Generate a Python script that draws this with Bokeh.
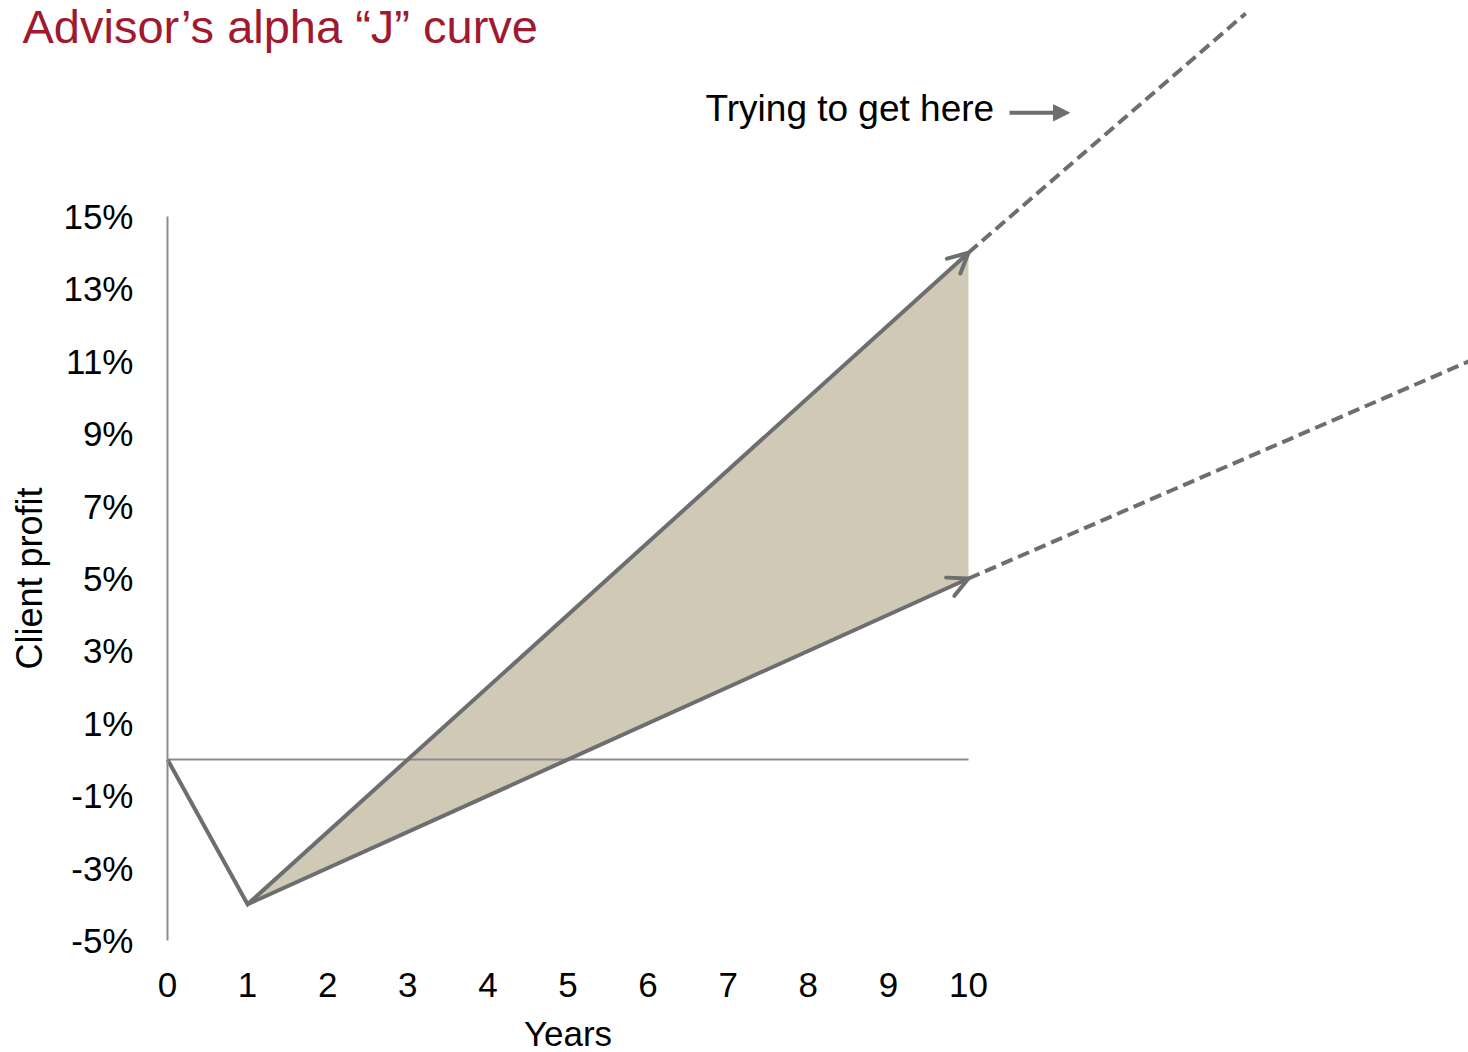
import math
from bokeh.plotting import figure
from bokeh.models import Range1d, FixedTicker, PrintfTickFormatter, Label, Arrow, OpenHead, NormalHead
from bokeh.embed import file_html
from bokeh.resources import INLINE

# ---- data ----
years = [0, 1, 10]
advisor = [0, -4, 14]        # upper path (with advisor alpha)
market = [0, -4, 5]          # lower path
proj_years_up = [10, 13.46]
proj_up = [14, 20.61]
proj_years_low = [10, 16.3]
proj_low = [5, 11.05]
y_ticks = [-5, -3, -1, 1, 3, 5, 7, 9, 11, 13, 15]
x_ticks = [0, 1, 2, 3, 4, 5, 6, 7, 8, 9, 10]

title_text = "Advisor\u2019s alpha \u201cJ\u201d curve"
note_text = "Trying to get here"
x_label = "Years"
y_label = "Client profit"

GREY = "#6D6E70"
AXIS_GREY = "#8C8C8C"
FILL = "#CFC9B6"
RED = "#A0192F"
FONT = "Liberation Sans"

p = figure(width=1468, height=1052,
           x_range=Range1d(-2.0849, 16.2422), y_range=Range1d(-8.0939, 20.9669),
           output_backend="svg", toolbar_location=None,
           min_border_left=0, min_border_right=0, min_border_top=0, min_border_bottom=0)
p.outline_line_color = None
p.background_fill_color = "white"
p.border_fill_color = "white"
p.xgrid.visible = False
p.ygrid.visible = False

# shaded alpha area
p.varea(x=years, y1=market, y2=advisor, fill_color=FILL)
# zero line
p.segment(x0=[years[0]], y0=[0], x1=[years[-1]], y1=[0], line_color=AXIS_GREY, line_width=2)
# main lines
p.line(years, advisor, line_color=GREY, line_width=4, line_join="miter")
p.line(years[1:], market[1:], line_color=GREY, line_width=4)
# projections
p.line(proj_years_up, proj_up, line_color=GREY, line_width=4, line_dash="12 6")
p.line(proj_years_low, proj_low, line_color=GREY, line_width=4, line_dash="12 6")

# open arrow heads at line ends
for series in (advisor, market):
    p.add_layout(Arrow(end=OpenHead(size=20, line_color=GREY, line_width=4, line_cap="round"),
                       x_start=years[-2], y_start=series[-2], x_end=years[-1], y_end=series[-1],
                       line_alpha=0))

# axes (fixed at x=0 and y=-5 so the frame covers the whole canvas)
yax = p.yaxis[0]
yax.fixed_location = x_ticks[0]
yax.ticker = FixedTicker(ticks=y_ticks)
yax.formatter = PrintfTickFormatter(format="%d%%")
yax.bounds = (y_ticks[0], y_ticks[-1])
yax.axis_line_color = AXIS_GREY
yax.axis_line_width = 2
yax.major_tick_line_color = None
yax.minor_tick_line_color = None
yax.major_tick_out = 0
yax.major_tick_in = 0
yax.major_label_standoff = 34
yax.major_label_text_font = FONT
yax.major_label_text_font_size = "35px"
yax.major_label_text_color = "black"

xax = p.xaxis[0]
xax.fixed_location = y_ticks[0]
xax.ticker = FixedTicker(ticks=x_ticks)
xax.bounds = (x_ticks[0], x_ticks[-1])
xax.axis_line_color = None
xax.major_tick_line_color = None
xax.minor_tick_line_color = None
xax.major_tick_out = 0
xax.major_tick_in = 0
xax.major_label_standoff = 32
xax.major_label_text_font = FONT
xax.major_label_text_font_size = "35px"
xax.major_label_text_color = "black"

# axis titles
p.add_layout(Label(x=-1.717, y=(y_ticks[0] + y_ticks[-1]) / 2, text=y_label, angle=math.pi / 2,
                   text_font=FONT, text_font_size="36px", text_color="black",
                   text_baseline="alphabetic", text_align="center"))
p.add_layout(Label(x=(x_ticks[0] + x_ticks[-1]) / 2, y=-7.569, text=x_label,
                   text_font=FONT, text_font_size="35px", text_color="black",
                   text_baseline="alphabetic", text_align="center"))

# texts
p.add_layout(Label(x=-1.81, y=20.25, text=title_text, text_font=FONT, text_font_size="47px",
                   text_color=RED, text_baseline="alphabetic", text_align="left"))
p.add_layout(Label(x=6.717, y=17.99, text=note_text, text_font=FONT, text_font_size="37px",
                   text_color="black", text_baseline="alphabetic", text_align="left"))
p.add_layout(Arrow(end=NormalHead(size=16, fill_color=GREY, line_color=GREY, line_width=1),
                   x_start=10.512, y_start=17.865, x_end=11.261, y_end=17.865,
                   line_color=GREY, line_width=4))

open("out.html", "w").write(file_html(p, INLINE))
